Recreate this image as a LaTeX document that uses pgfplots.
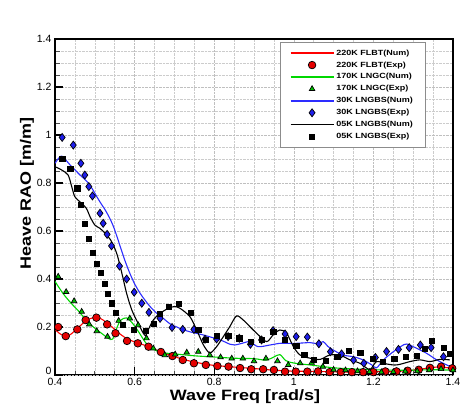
\documentclass[border=0pt]{standalone}
\usepackage{pgfplots}
\pgfplotsset{compat=1.18}
\usepackage{fontspec}
\setmainfont{Liberation Sans}
\newfontfamily\lblfont{Liberation Sans}[FakeStretch=1.2]
\definecolor{cred}{RGB}{255,0,0}
\definecolor{cgreen}{RGB}{0,215,0}
\definecolor{cblue}{RGB}{45,45,255}
\definecolor{dblue}{RGB}{30,30,235}
\pgfplotsset{
  lineleg/.style={legend image code/.code={\draw[##1, draw=#1, line width=1.5pt] (0pt,0pt) -- (43pt,0pt);}},
  markleg/.style={legend image code/.code={\draw[mark repeat=2,mark phase=2,##1] plot coordinates {(0pt,0pt)(21.5pt,0pt)(43pt,0pt)};}},
}
\begin{document}
\begin{tikzpicture}
\useasboundingbox (0,0) rectangle (460pt,410pt);
\begin{axis}[
  at={(55pt,35pt)}, anchor=south west,
  width=398pt, height=336pt, scale only axis,
  xmin=0.4, xmax=1.4, ymin=0, ymax=1.4,
  xtick={0.4,0.6,0.8,1,1.2,1.4},
  ytick={0.2,0.4,0.6,0.8,1,1.2,1.4},
  extra y ticks={0},
  extra y tick style={yticklabel style={yshift=4pt}},
  minor x tick num=3, minor y tick num=3,
  tick align=inside, tick pos=left,
  major tick length=8pt, minor tick length=4.5pt,
  major tick style={black, line width=1.3pt},
  minor tick style={black!70, line width=0.7pt},
  grid=both,
  major grid style={densely dotted, black!25, line width=0.5pt},
  minor grid style={densely dotted, black!20, line width=0.5pt},
  axis line style={black, line width=1.6pt},
  /pgf/number format/assume math mode=true,
  tick label style={font=\fontsize{10.5}{12}\selectfont},
  xlabel={Wave Freq [rad/s]},
  ylabel={Heave RAO [m/m]},
  label style={font=\lblfont\bfseries\fontsize{15}{18}\selectfont},
  xlabel style={yshift=3pt, xshift=-9pt},
  ylabel style={yshift=-4pt, xshift=14pt},
  legend style={at={(0.93,0.99)}, anchor=north east, draw=black!45, line width=0.6pt,
    font=\lblfont\bfseries\fontsize{7.5}{9}\selectfont, row sep=1pt,
    inner xsep=10pt, inner ysep=5pt},
  legend cell align=left,
]
% 220K FLBT (Num)
\addplot[cred, line width=1.1pt, smooth, lineleg=cred] coordinates {
(0.4,0.19)(0.41,0.175)(0.42,0.165)(0.43,0.163)(0.44,0.17)(0.45,0.185)(0.46,0.2)(0.47,0.215)(0.48,0.228)(0.49,0.236)(0.5,0.24)(0.51,0.238)(0.52,0.23)(0.53,0.218)(0.54,0.205)(0.55,0.19)(0.56,0.175)(0.58,0.152)(0.6,0.138)(0.62,0.127)(0.64,0.115)(0.66,0.1)(0.68,0.088)(0.7,0.077)(0.72,0.066)(0.75,0.054)(0.78,0.045)(0.8,0.04)(0.85,0.033)(0.9,0.027)(0.95,0.02)(1.0,0.016)(1.05,0.015)(1.1,0.013)(1.15,0.012)(1.2,0.014)(1.25,0.014)(1.3,0.02)(1.33,0.027)(1.36,0.033)(1.4,0.028)};
\addlegendentry{220K FLBT(Num)}
% 220K FLBT (Exp)
\addplot[only marks, mark=*, mark size=3.8pt, mark options={fill=red!90!black, draw=black, line width=0.7pt}, markleg] coordinates {
(0.408,0.20)(0.427,0.162)(0.456,0.19)(0.477,0.229)(0.504,0.239)(0.531,0.211)(0.552,0.174)(0.581,0.142)(0.608,0.132)(0.635,0.118)(0.666,0.096)(0.695,0.079)(0.721,0.0625)(0.749,0.049)(0.779,0.042)(0.808,0.0375)(0.836,0.035)(0.865,0.029)(0.893,0.024)(0.923,0.024)(0.95,0.021)(0.978,0.014)(1.005,0.014)(1.034,0.014)(1.061,0.015)(1.09,0.012)(1.118,0.012)(1.146,0.012)(1.174,0.012)(1.2,0.012)(1.23,0.015)(1.258,0.015)(1.286,0.018)(1.314,0.022)(1.342,0.03)(1.37,0.035)(1.398,0.028)};
\addlegendentry{220K FLBT(Exp)}
% 170K LNGC (Num)
\addplot[cgreen, line width=1.1pt, smooth, lineleg=cgreen] coordinates {
(0.4,0.39)(0.42,0.34)(0.44,0.3)(0.46,0.265)(0.48,0.225)(0.5,0.195)(0.52,0.17)(0.535,0.152)(0.545,0.15)(0.555,0.195)(0.565,0.228)(0.58,0.238)(0.595,0.215)(0.61,0.18)(0.63,0.13)(0.65,0.105)(0.67,0.093)(0.7,0.088)(0.75,0.08)(0.8,0.075)(0.85,0.07)(0.9,0.068)(0.93,0.062)(0.95,0.075)(0.965,0.085)(0.98,0.06)(1.0,0.05)(1.05,0.04)(1.1,0.03)(1.15,0.025)(1.2,0.022)(1.25,0.02)(1.3,0.02)(1.35,0.022)(1.4,0.02)};
\addlegendentry{170K LNGC(Num)}
% 170K LNGC (Exp)
\addplot[only marks, mark=triangle*, mark size=3.2pt, mark options={fill=cgreen!90!black, draw=black, line width=0.7pt}, markleg] coordinates {
(0.408,0.41)(0.428,0.346)(0.448,0.308)(0.467,0.264)(0.486,0.211)(0.505,0.183)(0.532,0.16)(0.56,0.226)(0.588,0.236)(0.609,0.208)(0.63,0.153)(0.647,0.111)(0.676,0.083)(0.702,0.086)(0.731,0.094)(0.76,0.097)(0.789,0.083)(0.816,0.074)(0.844,0.069)(0.872,0.069)(0.9,0.058)(0.93,0.069)(0.959,0.058)(0.986,0.042)(1.016,0.049)(1.045,0.051)(1.073,0.035)(1.1,0.022)(1.13,0.02)(1.16,0.016)(1.19,0.013)(1.22,0.012)(1.25,0.013)(1.28,0.015)(1.31,0.016)(1.34,0.02)(1.37,0.025)(1.4,0.02)};
\addlegendentry{170K LNGC(Exp)}
% 30K LNGBS (Num)
\addplot[cblue, line width=1.1pt, smooth, lineleg=cblue] coordinates {
(0.4,0.882)(0.41,0.905)(0.417,0.912)(0.425,0.9)(0.438,0.875)(0.45,0.855)(0.463,0.833)(0.475,0.815)(0.484,0.799)(0.495,0.772)(0.505,0.743)(0.515,0.716)(0.526,0.688)(0.537,0.655)(0.547,0.618)(0.555,0.58)(0.563,0.54)(0.575,0.48)(0.588,0.424)(0.6,0.38)(0.614,0.34)(0.627,0.31)(0.639,0.285)(0.655,0.258)(0.672,0.236)(0.69,0.212)(0.706,0.2)(0.72,0.19)(0.739,0.18)(0.772,0.167)(0.815,0.146)(0.84,0.128)(0.852,0.125)(0.87,0.132)(0.89,0.139)(0.91,0.118)(0.94,0.125)(0.965,0.132)(0.982,0.132)(1.007,0.132)(1.041,0.135)(1.06,0.13)(1.074,0.139)(1.085,0.12)(1.099,0.104)(1.124,0.083)(1.15,0.076)(1.174,0.063)(1.196,0.042)(1.208,0.03)(1.225,0.063)(1.25,0.097)(1.27,0.12)(1.284,0.129)(1.309,0.111)(1.334,0.09)(1.359,0.063)(1.384,0.042)(1.4,0.03)};
\addlegendentry{30K LNGBS(Num)}
% 30K LNGBS (Exp)
\addplot[only marks, mark=diamond*, mark size=4pt, mark options={fill=dblue, draw=black, line width=0.7pt}, markleg] coordinates {
(0.418,0.99)(0.446,0.958)(0.465,0.882)(0.475,0.833)(0.485,0.785)(0.494,0.746)(0.513,0.674)(0.521,0.632)(0.531,0.586)(0.542,0.538)(0.562,0.454)(0.58,0.4)(0.599,0.345)(0.618,0.299)(0.636,0.261)(0.664,0.236)(0.694,0.198)(0.721,0.19)(0.749,0.19)(0.777,0.149)(0.806,0.15)(0.835,0.16)(0.863,0.153)(0.891,0.128)(0.919,0.146)(0.948,0.185)(0.978,0.171)(1.006,0.16)(1.034,0.158)(1.063,0.13)(1.092,0.097)(1.12,0.088)(1.15,0.062)(1.176,0.049)(1.205,0.073)(1.233,0.098)(1.263,0.107)(1.29,0.114)(1.318,0.125)(1.345,0.114)(1.376,0.076)};
\addlegendentry{30K LNGBS(Exp)}
% 05K LNGBS (Num)
\addplot[black, line width=1.1pt, smooth, lineleg=black] coordinates {
(0.4,0.868)(0.417,0.854)(0.433,0.833)(0.442,0.785)(0.45,0.743)(0.467,0.715)(0.479,0.694)(0.488,0.66)(0.5,0.625)(0.513,0.611)(0.526,0.59)(0.54,0.562)(0.555,0.507)(0.568,0.424)(0.58,0.34)(0.593,0.271)(0.609,0.215)(0.626,0.165)(0.634,0.1875)(0.647,0.229)(0.664,0.257)(0.685,0.278)(0.7,0.285)(0.714,0.278)(0.739,0.243)(0.756,0.1875)(0.773,0.125)(0.789,0.092)(0.806,0.118)(0.823,0.16)(0.839,0.201)(0.856,0.246)(0.873,0.229)(0.89,0.201)(0.911,0.167)(0.932,0.139)(0.948,0.167)(0.965,0.1875)(0.982,0.174)(0.999,0.118)(1.016,0.083)(1.041,0.07)(1.066,0.065)(1.09,0.083)(1.116,0.083)(1.141,0.063)(1.166,0.049)(1.191,0.023)(1.208,0.056)(1.233,0.046)(1.259,0.042)(1.292,0.056)(1.317,0.063)(1.342,0.056)(1.367,0.065)(1.392,0.063)};
\addlegendentry{05K LNGBS(Num)}
% 05K LNGBS (Exp)
\addplot[only marks, mark=square*, mark size=2.6pt, mark options={fill=black, draw=black}, markleg] coordinates {
(0.418,0.9)(0.438,0.858)(0.456,0.778)(0.465,0.708)(0.475,0.632)(0.485,0.567)(0.494,0.511)(0.505,0.465)(0.515,0.426)(0.524,0.382)(0.532,0.34)(0.542,0.299)(0.552,0.26)(0.57,0.208)(0.598,0.188)(0.628,0.185)(0.647,0.215)(0.664,0.257)(0.685,0.285)(0.71,0.296)(0.741,0.26)(0.76,0.19)(0.779,0.146)(0.806,0.163)(0.835,0.163)(0.863,0.153)(0.891,0.14)(0.919,0.146)(0.948,0.18)(0.978,0.146)(1.006,0.122)(1.026,0.086)(1.049,0.063)(1.081,0.06)(1.109,0.076)(1.138,0.102)(1.167,0.094)(1.198,0.067)(1.223,0.056)(1.252,0.069)(1.282,0.077)(1.309,0.079)(1.329,0.111)(1.347,0.142)(1.376,0.114)(1.393,0.088)};
\addlegendentry{05K LNGBS(Exp)}
\end{axis}
\end{tikzpicture}
\end{document}
